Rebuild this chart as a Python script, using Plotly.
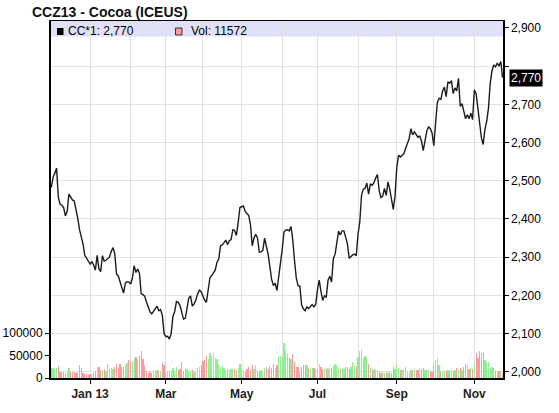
import pandas as pd
import plotly.graph_objects as go

title_text = "CCZ13 - Cocoa (ICEUS)"
start_date = "2012-11-30"

prices = [
    2482, 2509, 2520, 2533, 2457, 2439, 2436, 2430, 2408, 2420,
    2465, 2458, 2450, 2447, 2428, 2402, 2372, 2355, 2335, 2305,
    2298, 2291, 2282, 2288, 2280, 2266, 2305, 2270, 2262, 2304,
    2290, 2292, 2296, 2300, 2315, 2325, 2310, 2256, 2251, 2235,
    2218, 2206, 2232, 2236, 2235, 2230, 2245, 2278, 2260, 2269,
    2258, 2205, 2202, 2198, 2183, 2170, 2157, 2152, 2158, 2166,
    2172, 2160, 2163, 2148, 2100, 2092, 2093, 2086, 2100, 2145,
    2158, 2184, 2182, 2174, 2156, 2138, 2140, 2168, 2193, 2199,
    2172, 2178, 2188, 2204, 2214, 2210, 2198, 2188, 2182, 2215,
    2247, 2252, 2258, 2266, 2287, 2295, 2330, 2332, 2338, 2345,
    2333, 2343, 2346, 2372, 2370, 2357, 2390, 2430, 2432, 2434,
    2420, 2414, 2409, 2385, 2330, 2350, 2360, 2350, 2313, 2314,
    2318, 2350, 2330, 2308, 2275, 2242, 2226, 2232, 2213, 2245,
    2280, 2320, 2366, 2371, 2372, 2369, 2380, 2345, 2290, 2245,
    2225, 2225, 2175, 2165, 2160, 2170, 2166, 2172, 2176, 2170,
    2177, 2215, 2240, 2210, 2187, 2199, 2196, 2240, 2250, 2235,
    2296, 2308, 2345, 2368, 2358, 2369, 2369, 2355, 2335, 2297,
    2302, 2306, 2308, 2304, 2360, 2392, 2462, 2478, 2480, 2494,
    2465, 2492, 2488, 2495, 2507, 2516, 2475, 2456, 2460, 2480,
    2462, 2497, 2478, 2448, 2425, 2460, 2535, 2567, 2562, 2566,
    2571, 2585, 2600, 2610, 2636, 2620, 2628, 2619, 2614, 2617,
    2604, 2579, 2605, 2630, 2641, 2637, 2625, 2592, 2650, 2705,
    2716, 2713, 2735, 2745, 2720, 2759, 2755, 2762, 2728, 2743,
    2735, 2768, 2695, 2702, 2682, 2662, 2673, 2662, 2677, 2660,
    2738, 2728, 2690, 2645, 2612, 2595, 2635, 2655, 2690, 2755,
    2788, 2803, 2798, 2808, 2800, 2812, 2770,
]

volumes = [
    22000, 22000, 20000, 22000, 27000, 14000, 13000, 14000, 12000, 15000,
    22000, 14000, 13000, 14000, 12000, 13000, 30000, 22000, 12000, 8000,
    9000, 7000, 9000, 8000, 12000, 15000, 25000, 24000, 18000, 17000,
    20000, 15000, 32000, 20000, 22000, 19000, 24000, 32000, 22000, 32000,
    24000, 25000, 30000, 34000, 40000, 37000, 36000, 45000, 47000, 43000,
    49000, 60000, 43000, 30000, 16000, 12000, 13000, 11000, 18000, 15000,
    18000, 16000, 15000, 35000, 28000, 14000, 15000, 16000, 14000, 22000,
    16000, 25000, 18000, 20000, 35000, 16000, 22000, 21000, 15000, 17000,
    18000, 14000, 15000, 22000, 24000, 30000, 38000, 41000, 49000, 42000,
    56000, 48000, 56000, 45000, 42000, 32000, 25000, 26000, 22000, 18000,
    20000, 18000, 21000, 19000, 20000, 18000, 22000, 32000, 23000, 18000,
    14000, 20000, 25000, 18000, 28000, 20000, 28000, 16000, 14000, 18000,
    14000, 22000, 25000, 20000, 27000, 22000, 32000, 22000, 28000, 49000,
    50000, 47000, 78000, 62000, 56000, 45000, 43000, 54000, 36000, 25000,
    25000, 14000, 25000, 29000, 30000, 28000, 22000, 20000, 22000, 22000,
    19000, 20000, 32000, 24000, 20000, 22000, 21000, 22000, 20000, 22000,
    26000, 32000, 28000, 22000, 20000, 22000, 20000, 24000, 25000, 20000,
    25000, 36000, 30000, 27000, 47000, 60000, 63000, 44000, 49000, 46000,
    32000, 22000, 18000, 19000, 18000, 17000, 15000, 12000, 13000, 11000,
    13000, 12000, 14000, 12000, 25000, 21000, 31000, 22000, 18000, 17000,
    20000, 25000, 16000, 14000, 18000, 17000, 19000, 18000, 17000, 22000,
    21000, 22000, 18000, 19000, 17000, 15000, 13000, 27000, 40000, 45000,
    28000, 15000, 16000, 15000, 16000, 18000, 16000, 17000, 16000, 18000,
    22000, 19000, 22000, 18000, 25000, 32000, 28000, 20000, 22000, 20000,
    34000, 55000, 45000, 60000, 55000, 58000, 40000, 35000, 35000, 22000,
    24000, 22000, 16000, 15000, 16000, 15000, 11572,
]

major_months = ["2013-01-01", "2013-03-01", "2013-05-01", "2013-07-01", "2013-09-02", "2013-11-01"]
major_labels = ["Jan 13", "Mar", "May", "Jul", "Sep", "Nov"]
minor_months = ["2013-02-01", "2013-04-01", "2013-06-03", "2013-08-01", "2013-10-01"]
price_ticks = [2000, 2100, 2200, 2300, 2400, 2500, 2600, 2700, 2800, 2900]
vol_ticks = [0, 50000, 100000]

dates = pd.bdate_range(start_date, periods=len(prices))

UP = "#8ef08e"
DOWN = "#ff9a9a"
bar_colors = [UP] + [UP if prices[i] >= prices[i - 1] else DOWN for i in range(1, len(prices))]

# the tick label hidden behind the last-price marker is left blank
price_labels = ["" if abs(t - prices[-1]) < 50 else "{:,}".format(t) for t in price_ticks]

GRID = "#e2e2e2"
FONT = "Liberation Sans, Arial, sans-serif"

W, H = 559, 413
ML, MR, MT, MB = 51, 56, 21, 34.5
PW, PH = W - ML - MR, H - MT - MB


def px_x(page_x):
    return (page_x - ML) / PW


def px_y(page_y):
    return (H - MB - page_y) / PH


fig = go.Figure()
fig.add_trace(go.Bar(x=dates, y=volumes, marker=dict(color=bar_colors, line=dict(width=0)),
                     width=0.7 * 86400000, yaxis="y", showlegend=False, hoverinfo="skip"))
fig.add_trace(go.Scatter(x=dates, y=prices, mode="lines", line=dict(color="#1c1c1c", width=1.4),
                         yaxis="y2", showlegend=False, hoverinfo="skip"))

fig.update_layout(
    template="none",
    width=W, height=H,
    margin=dict(l=ML, r=MR, t=MT, b=MB, autoexpand=False),
    paper_bgcolor="white", plot_bgcolor="white",
    font=dict(family=FONT, size=12, color="black"),
    bargap=0,
    hovermode=False,
    title=dict(text="<b>" + title_text + "</b>", x=32 / W, xref="container", xanchor="left",
               y=1 - 12.5 / H, yref="container", yanchor="middle",
               font=dict(size=14, color="#111", family=FONT)),
    xaxis=dict(
        type="date", automargin=False,
        range=["2012-11-29 20:00", "2013-11-25 06:00"],
        rangebreaks=[dict(bounds=["sat", "mon"])],
        tickmode="array", tickvals=major_months,
        ticktext=["<b>" + t + "</b>" for t in major_labels],
        tickfont=dict(size=12, color="#222"),
        ticks="outside", ticklen=4, tickcolor="black",
        showgrid=True, gridcolor=GRID, gridwidth=1,
        minor=dict(tickmode="array", tickvals=minor_months, showgrid=True, gridcolor=GRID, ticklen=0),
        showline=True, linecolor="black", linewidth=1.5, mirror=True,
        zeroline=False, fixedrange=True,
    ),
    yaxis=dict(
        side="left", range=[0, 795000], automargin=False,
        tickmode="array", tickvals=vol_ticks, ticktext=[str(v) for v in vol_ticks],
        ticks="outside", ticklen=4, tickcolor="black",
        showgrid=False, zeroline=False,
        showline=True, linecolor="black", linewidth=2, mirror=False,
    ),
    yaxis2=dict(
        side="right", overlaying="y", range=[1984, 2918], automargin=False,
        tickmode="array", tickvals=price_ticks, ticktext=price_labels,
        ticks="outside", ticklen=4, tickcolor="black",
        showgrid=True, gridcolor=GRID, gridwidth=1, zeroline=False,
        showline=True, linecolor="black", linewidth=1.5,
    ),
)

# legend band and entries
fig.add_shape(type="rect", xref="paper", yref="paper", x0=0, x1=1, y0=px_y(36.5), y1=1,
              fillcolor="#e0e0fa", line=dict(width=0), layer="below")
fig.add_shape(type="rect", xref="paper", yref="paper",
              x0=px_x(57), x1=px_x(63.5), y0=px_y(35), y1=px_y(28),
              fillcolor="black", line=dict(width=0))
fig.add_shape(type="rect", xref="paper", yref="paper",
              x0=px_x(175.5), x1=px_x(182), y0=px_y(35), y1=px_y(28),
              fillcolor="#ff9a9a", line=dict(color="#333", width=1))
fig.add_annotation(xref="paper", yref="paper", x=px_x(66), y=px_y(31.5),
                   xanchor="left", yanchor="middle", showarrow=False,
                   text="CC*1: {:,}".format(prices[-1]), font=dict(size=12, color="black"))
fig.add_annotation(xref="paper", yref="paper", x=px_x(189), y=px_y(31.5),
                   xanchor="left", yanchor="middle", showarrow=False,
                   text="Vol: {}".format(volumes[-1]), font=dict(size=12, color="black"))
# last price marker
fig.add_annotation(xref="paper", yref="y2", x=1, y=prices[-1], xanchor="left", yanchor="middle",
                   xshift=6, showarrow=False, text="{:,}".format(prices[-1]),
                   font=dict(size=12, color="white"), bgcolor="black", borderpad=1)

fig.write_html("out.html", config={"displayModeBar": False, "staticPlot": True},
               post_script="document.body.style.margin='0px';")
